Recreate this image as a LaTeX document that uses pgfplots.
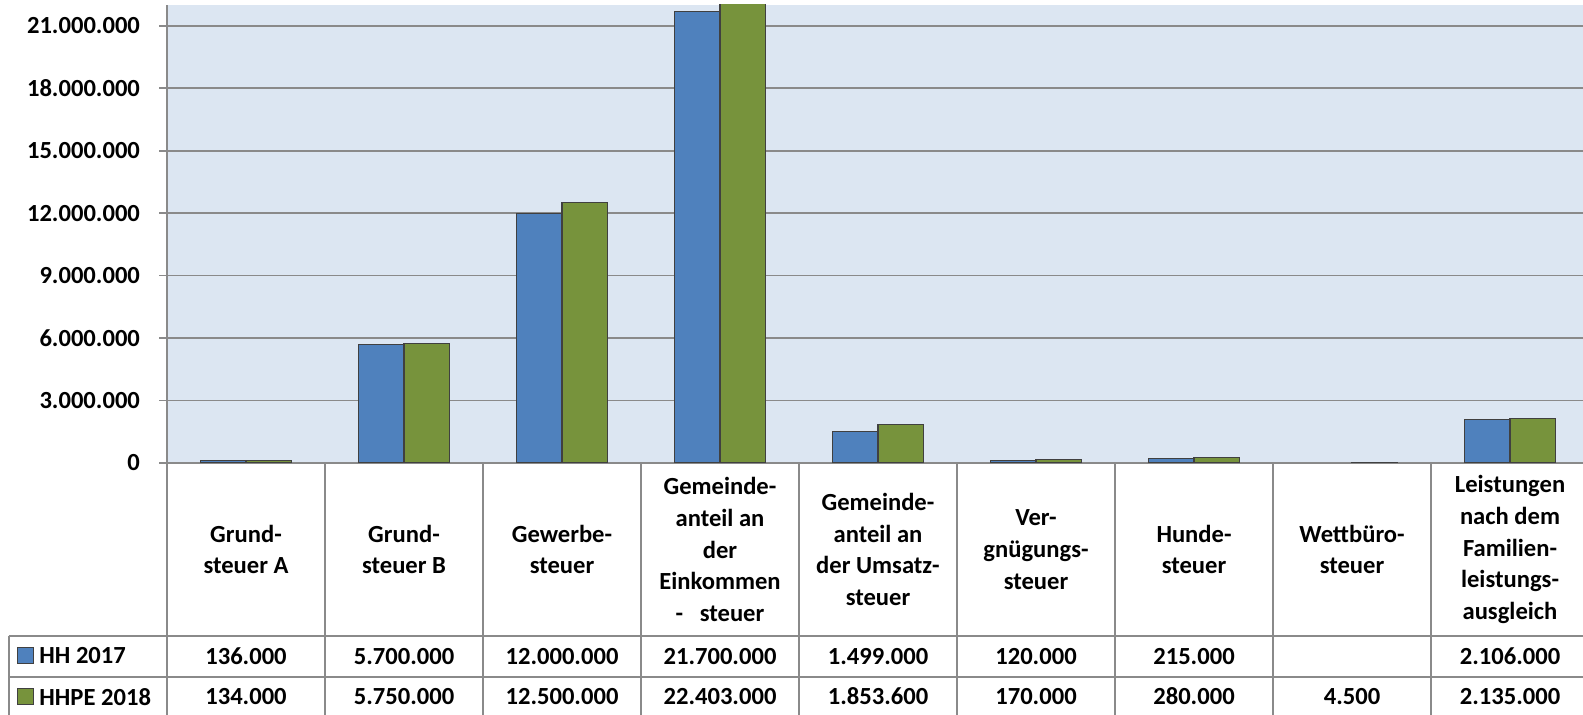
\documentclass[border=0pt]{standalone}
\usepackage{pgfplots}
\pgfplotsset{compat=1.18}
\usepackage{fontspec}
\setmainfont{Carlito}

\definecolor{plotbg}{HTML}{DCE6F2}
\definecolor{hhblue}{HTML}{4F81BD}
\definecolor{hhgreen}{HTML}{77933C}
\definecolor{gridgray}{HTML}{8A8A8A}
\definecolor{bardraw}{HTML}{404040}

\newcommand{\tfont}{\fontsize{12.3}{15.85}\selectfont\bfseries}

\begin{document}
\begin{tikzpicture}[x=0.5pt,y=-0.5pt]
\useasboundingbox (0,0) rectangle (1583,715);
\begin{axis}[
  at={(83.5pt,-231.5pt)}, anchor=south west,
  scale only axis, width=708pt, height=229pt,
  xmin=-0.5, xmax=8.462,
  ymin=0, ymax=22000000,
  axis background/.style={fill=plotbg},
  axis x line*=bottom, axis y line*=left,
  axis line style={gridgray, line width=0.8pt},
  ybar=0pt, bar width=22.75pt,
  xtick=\empty,
  ytick={0,3000000,...,21000000},
  ymajorgrids, grid style={gridgray, line width=0.8pt},
  tick align=outside, major tick length=4pt,
  tick style={gridgray, line width=0.8pt},
  scaled y ticks=false,
  yticklabel style={font=\tfont, xshift=-6pt},
  /pgf/number format/.cd, fixed, 1000 sep={.}, assume math mode=true,
]
\addplot[fill=hhblue, draw=bardraw, line width=0.6pt] coordinates {
  (0,136000) (1,5700000) (2,12000000) (3,21700000) (4,1499000)
  (5,120000) (6,215000) (8,2106000)
};
\addplot[fill=hhgreen, draw=bardraw, line width=0.6pt] coordinates {
  (0,134000) (1,5750000) (2,12500000) (3,22403000) (4,1853600)
  (5,170000) (6,280000) (7,4500) (8,2135000)
};
\end{axis}

% data table below the axis
\draw[gridgray, line width=0.8pt] (8.7,636) -- (1583,636);
\draw[gridgray, line width=0.8pt] (8.7,677) -- (1583,677);
\draw[gridgray, line width=0.8pt] (8.7,636) -- (8.7,720);
\foreach \k in {0,...,9}
  \draw[gridgray, line width=0.8pt] (167+158*\k,463) -- (167+158*\k,720);

\filldraw[fill=hhblue, draw=bardraw, line width=0.5pt] (17,647) rectangle (33,663);
\filldraw[fill=hhgreen, draw=bardraw, line width=0.5pt] (17,688) rectangle (33,704);
\node[font=\tfont, anchor=west, inner sep=0] at (39,656) {HH 2017};
\node[font=\tfont, anchor=west, inner sep=0] at (39,697) {HHPE 2018};

\foreach \i/\lab/\a/\b in {
  0/{Grund-\\steuer A}/136.000/134.000,
  1/{Grund-\\steuer B}/5.700.000/5.750.000,
  2/{Gewerbe-\\steuer}/12.000.000/12.500.000,
  3/{Gemeinde-\\anteil an\\der\\Einkommen\\-\ \ \ steuer}/21.700.000/22.403.000,
  4/{Gemeinde-\\anteil an\\der Umsatz-\\steuer}/1.499.000/1.853.600,
  5/{Ver-\\gnügungs-\\steuer}/120.000/170.000,
  6/{Hunde-\\steuer}/215.000/280.000,
  7/{Wettbüro-\\steuer}/{}/4.500,
  8/{Leistungen\\nach dem\\Familien-\\leistungs-\\ausgleich}/2.106.000/2.135.000} {
  \node[font=\tfont, align=center, inner sep=0] at (167+158*\i+79,549.5) {\lab};
  \node[font=\tfont, inner sep=0] at (167+158*\i+79,656.5) {\a};
  \node[font=\tfont, inner sep=0] at (167+158*\i+79,696.5) {\b};
}
\end{tikzpicture}
\end{document}
